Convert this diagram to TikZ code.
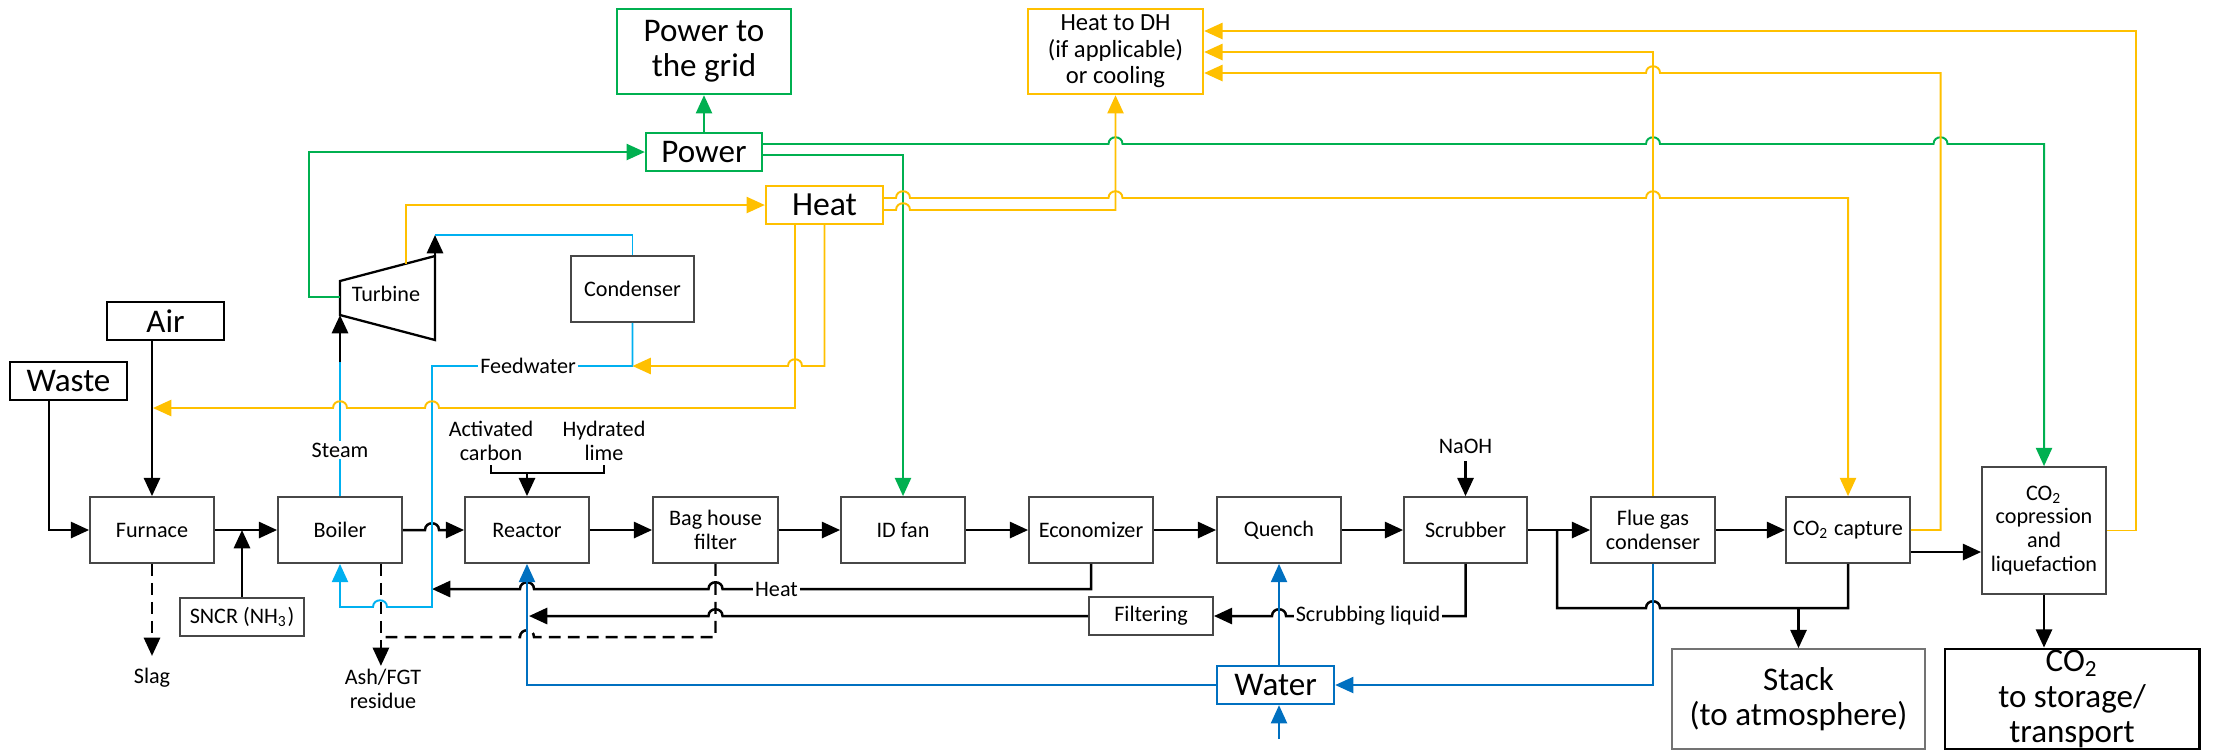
\documentclass[tikz,border=0pt]{standalone}
\usepackage{fontspec}
\setmainfont{Carlito}
\usetikzlibrary{arrows.meta,calc}

\definecolor{flowgreen}{HTML}{00B050}
\definecolor{flowyellow}{HTML}{FFC000}
\definecolor{flowcyan}{HTML}{00B0F0}
\definecolor{flowblue}{HTML}{0070C0}

\newcommand\fsmall{\fontsize{6.3pt}{6.8pt}\selectfont}
\newcommand\fmid{\fontsize{7pt}{7.5pt}\selectfont}
\newcommand\fbig{\fontsize{9.4pt}{10pt}\selectfont}

% line jumps: a small arch over a crossing line at (#1,#2)
\newcommand\hopr[2]{-- ({#1-7},#2) .. controls ({#1-7},{#2-9}) and ({#1+7},{#2-9}) .. ({#1+7},#2)}
\newcommand\hopl[2]{-- ({#1+7},#2) .. controls ({#1+7},{#2-9}) and ({#1-7},{#2-9}) .. ({#1-7},#2)}

\begin{document}
\begin{tikzpicture}[x=0.01cm,y=-0.01cm,
  box/.style={draw=black!72, line width=0.5pt, fill=white, minimum width=1.24cm,
    minimum height=0.66cm, inner sep=0pt, align=center, font=\fsmall},
  bigbox/.style={box, font=\fbig, minimum width=1.17cm, minimum height=0.38cm},
  txt/.style={inner sep=1pt, align=center, font=\fsmall},
  txtw/.style={txt, fill=white, inner sep=0.6pt},
  flow/.style={draw=black, line width=0.7pt},
  tip/.style={-{Triangle[length=5.2pt,width=4.6pt]}},
  gline/.style={draw=flowgreen, line width=0.55pt},
  yline/.style={draw=flowyellow, line width=0.55pt},
  cline/.style={draw=flowcyan, line width=0.55pt},
  bline/.style={draw=flowblue, line width=0.55pt},
  dashline/.style={dash pattern=on 3.4pt off 2pt}]
\useasboundingbox (0,0) rectangle (2213,750);

% ---------- process line ----------
\node[box] (furnace) at (152,530) {Furnace};
\node[box] (boiler) at (340,530) {Boiler};
\node[box] (reactor) at (527,530) {Reactor};
\node[box, minimum width=1.25cm] (bag) at (715.5,530) {Bag house\\filter};
\node[box] (idfan) at (903,530) {ID fan};
\node[box] (econ) at (1091,530) {Economizer};
\node[box] (quench) at (1279,530) {Quench};
\node[box, minimum width=1.23cm] (scrub) at (1465.5,530) {Scrubber};
\node[box] (fgc) at (1653,530) {Flue gas\\condenser};
\node[box] (capture) at (1848,530) {CO\textsubscript{2} capture};
\node[box, minimum height=1.27cm] (comp) at (2044,530.5) {CO\textsubscript{2}\\copression\\and\\liquefaction};
\node[box, minimum height=0.38cm] (sncr) at (242,617) {SNCR (NH\textsubscript{3})};
\node[box, minimum width=1.23cm] (cond) at (632.5,289) {Condenser};
\node[box, minimum height=0.38cm] (filt) at (1151,616) {Filtering};

% ---------- inputs and outputs ----------
\node[bigbox, draw=black] (waste) at (68.5,381) {Waste};
\node[bigbox, draw=black] (air) at (165.5,321) {Air};
\node[bigbox, draw=flowgreen, line width=0.65pt, minimum width=1.16cm] (power) at (704,152) {Power};
\node[bigbox, draw=flowgreen, line width=0.65pt, minimum width=1.74cm, minimum height=0.85cm] (grid) at (704,51.5) {Power to\\the grid};
\node[bigbox, draw=flowyellow, line width=0.65pt, font=\fontsize{9.6pt}{10pt}\selectfont] (heat) at (824.5,205) {Heat};
\node[box, draw=flowyellow, line width=0.65pt, minimum width=1.75cm, minimum height=0.85cm, font=\fmid] (dh) at (1115.5,51.5) {Heat to DH\\(if applicable)\\or cooling};
\node[bigbox, draw=flowblue, line width=0.65pt] (water) at (1275.5,685) {Water};
\node[bigbox, draw=black!55, minimum width=2.53cm, minimum height=1.0cm] (stack) at (1798.5,699) {Stack\\(to atmosphere)};
\node[bigbox, draw=black, line width=0.8pt, minimum width=2.54cm, minimum height=1.0cm] (store) at (2072,699) {CO\textsubscript{2}\\to storage/\\transport};

% ---------- turbine ----------
\draw[draw=black, line width=0.65pt] (340,281) -- (435,256) -- (435,340) -- (340,315) -- cycle;
\node[txt] (turbine) at (386,294) {Turbine};
\coordinate (tinl) at (340,315);
\coordinate (tout) at (435,256);
\coordinate (tpow) at (340,297);
\coordinate (theat) at (406,263.5);

% ---------- free labels ----------
\node[txt] (act) at (491,441) {Activated\\carbon};
\node[txt] (lime) at (604,441) {Hydrated\\lime};
\node[txt] (naoh) at (1465.5,446) {NaOH};
\node[txt] (slag) at (152,678) {Slag};
\node[txt] (ash) at (383,689) {Ash/FGT\\residue};

% ---------- flue gas path ----------
\draw[flow,tip] ($(waste.south west)+(40,0)$) |- (furnace.west);
\draw[flow,tip] (air.south -| furnace.north) -- (furnace.north);
\draw[flow,tip] (furnace) -- (boiler);
\draw[flow,tip] (sncr.north) -- (sncr.north |- furnace.east);
\draw[flow,dashline,tip] (furnace.south) -- ++(0,92);
\draw[flow,tip] (boiler.east) \hopr{432}{530} -- (reactor.west);
\coordinate (brk) at (527,473);
\draw[flow] (act.south |- brk) ++(0,-8) -- (act.south |- brk) -- (lime.south |- brk) -- ++(0,-8);
\draw[flow,tip] (brk) -- (reactor.north);
\draw[flow,tip] (reactor) -- (bag);
\draw[flow,tip] (bag) -- (idfan);
\draw[flow,tip] (idfan) -- (econ);
\draw[flow,tip] (econ) -- (quench);
\draw[flow,tip] (quench) -- (scrub);
\draw[flow,tip] (scrub) -- (fgc);
\draw[flow,tip] (fgc) -- (capture);
\draw[flow,tip] (capture.east |- 0,552) -- (comp.west |- 0,552);
\draw[flow,tip] (comp.south) -- (comp.south |- store.north);
\draw[flow,tip] (naoh.south |- 0,461) -- (scrub.north);
\draw[flow] (capture.south) -- (1848,608) \hopl{1653}{608} -- (1557,608) -- (1557,530);
\draw[flow,tip] (stack.north |- 0,608) -- (stack.north);

% ---------- recirculation and residues ----------
\draw[flow,tip] (econ.south) -- (1091,589) \hopl{715.5}{589} \hopl{527}{589} -- (432,589);
\draw[flow,tip] (scrub.south) -- (scrub.south |- filt.east) \hopl{1279}{616} -- (filt.east);
\draw[flow,tip] (filt.west) \hopl{715.5}{616} -- (529,616);
\draw[flow,dashline,tip] ($(boiler.south east)+(-22,0)$) -- ++(0,102);
\draw[flow,dashline] (bag.south) -- (715.5,637) \hopl{527}{637} -- (380,637);

% ---------- steam cycle ----------
\draw[cline] (boiler.north) -- (340,362) coordinate (stm);
\draw[flow,tip] (stm) -- (tinl);
\draw[flow,tip] (tout) -- (435,235) coordinate (exh);
\draw[cline] (exh) -- (exh -| cond.north) -- (cond.north);
\draw[cline,tip] (cond.south) -- (632.5,366) -- (432,366) -- (432,607) \hopl{380}{607} -- (340,607) -- (boiler.south);

% ---------- power ----------
\draw[gline,tip] (tpow) -- (309,297) -- (309,152) -- (power.west);
\draw[gline,tip] (power.north) -- (grid.south);
\draw[gline,tip] (power.east |- 0,144) \hopr{1115.5}{144} \hopr{1653}{144} \hopr{1940.5}{144} -- (2044,144) -- (comp.north);
\draw[gline,tip] (power.east |- 0,155) -- (903,155) -- (idfan.north);

% ---------- heat ----------
\draw[yline,tip] (theat) -- (406,205) -- (heat.west);
\draw[yline,tip] (heat.east |- 0,198) \hopr{903}{198} \hopr{1115.5}{198} \hopr{1653}{198} -- (1848,198) -- (capture.north);
\draw[yline,tip] (heat.east |- 0,210) \hopr{903}{210} -- (1115.5,210) -- (dh.south);
\draw[yline,tip] (heat.south) -- (824.5,366) \hopl{795}{366} -- (632.5,366);
\draw[yline,tip] (795,224) -- (795,408) \hopl{432}{408} \hopl{340}{408} -- (153,408);
\draw[yline,tip] (comp.east) -- (2136,530.5) -- (2136,31) -- (dh.east |- 0,31);
\draw[yline,tip] (fgc.north) -- (1653,52) -- (dh.east |- 0,52);
\draw[yline,tip] (capture.east) -- (1940.5,530) -- (1940.5,73) \hopl{1653}{73} -- (dh.east |- 0,73);

% ---------- water ----------
\draw[bline,tip] (quench.south |- 0,739) -- (quench.south |- water.south);
\draw[bline,tip] (quench.south |- water.north) -- (quench.south);
\draw[bline,tip] (water.west) -- (527,685) -- (reactor.south);
\draw[bline,tip] (fgc.south) -- (1653,685) -- (water.east);

% ---------- line labels ----------
\node[txtw] (steam) at (340,450) {Steam};
\node[txtw] (fw) at (528,366) {Feedwater};
\node[txtw] (heatret) at (776.5,589) {Heat};
\node[txtw] (scrliq) at (1368,616) {Scrubbing liquid};
\end{tikzpicture}
\end{document}
